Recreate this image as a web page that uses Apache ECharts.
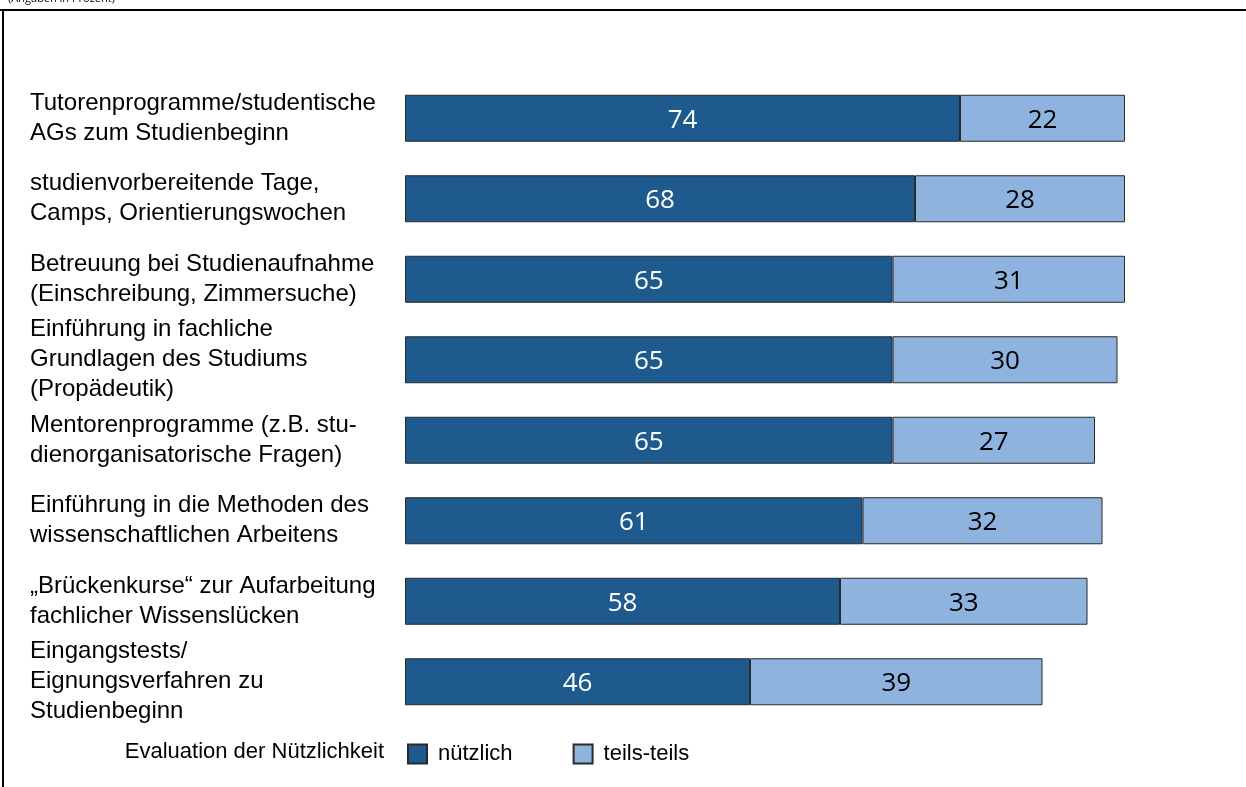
<!DOCTYPE html>
<html><head><meta charset="utf-8">
<script src="https://cdn.jsdelivr.net/npm/echarts@6/dist/echarts.min.js"></script>
<style>html,body{margin:0;padding:0;background:#fff}#c{width:1246px;height:787px}</style>
</head><body><div id="c"></div>
<script>
const categories = [
  "Tutorenprogramme/studentische\nAGs zum Studienbeginn",
  "studienvorbereitende Tage,\nCamps, Orientierungswochen",
  "Betreuung bei Studienaufnahme\n(Einschreibung, Zimmersuche)",
  "Einführung in fachliche\nGrundlagen des Studiums\n(Propädeutik)",
  "Mentorenprogramme (z.B. stu-\ndienorganisatorische Fragen)",
  "Einführung in die Methoden des\nwissenschaftlichen Arbeitens",
  "„Brückenkurse“ zur Aufarbeitung\nfachlicher Wissenslücken",
  "Eingangstests/\nEignungsverfahren zu\nStudienbeginn"
];
const nuetzlich = [74, 68, 65, 65, 65, 61, 58, 46];
const teilsTeils = [22, 28, 31, 30, 27, 32, 33, 39];
const seriesNames = ["nützlich", "teils-teils"];

const chart = echarts.init(document.getElementById('c'), null, {renderer: 'canvas'});
chart.setOption({
  animation: false,
  grid: {left: 405, top: 78, width: 750, height: 644},
  xAxis: {type: 'value', min: 0, max: 100, show: false},
  yAxis: {
    type: 'category', data: categories, inverse: true,
    axisLine: {show: false}, axisTick: {show: false},
    axisLabel: {
      align: 'left', margin: 375, fontFamily: 'Liberation Sans, Arial, sans-serif',
      fontSize: 24, lineHeight: 30, color: '#000'
    }
  },
  legend: {
    left: 402, top: 738, itemWidth: 19, itemHeight: 19, itemGap: 60,
    icon: 'rect',
    textStyle: {fontFamily: 'Liberation Sans Narrow, Arial Narrow, sans-serif', fontSize: 22, color: '#000', padding: [0, 0, 0, 6]},
    data: seriesNames
  },
  series: [
    {
      name: seriesNames[0], type: 'bar', stack: 's', data: nuetzlich, barWidth: 47,
      itemStyle: {color: '#1F5A8F', borderColor: '#2a2a2a', borderWidth: 1},
      label: {show: true, position: 'inside', color: '#fff', fontFamily: 'Open Sans, sans-serif', fontSize: 26, offset: [0, 2]}
    },
    {
      name: seriesNames[1], type: 'bar', stack: 's', data: teilsTeils, barWidth: 47,
      itemStyle: {color: '#8DB3DE', borderColor: '#2a2a2a', borderWidth: 1},
      label: {show: true, position: 'inside', color: '#000', fontFamily: 'Open Sans, sans-serif', fontSize: 26, offset: [0, 2]}
    }
  ],
  graphic: [
    {type: 'rect', shape: {x: 0, y: 9, width: 1246, height: 2}, style: {fill: '#000'}},
    {type: 'rect', shape: {x: 2, y: 9, width: 2, height: 778}, style: {fill: '#000'}},
    {type: 'text', left: 8, top: -7, style: {text: '(Angaben in Prozent)', fontFamily: 'Open Sans, sans-serif', fontSize: 11, fill: '#000'}},
    {type: 'text', x: 384, y: 752, style: {text: 'Evaluation der Nützlichkeit', align: 'right', verticalAlign: 'middle', fontFamily: 'Liberation Sans Narrow, Arial Narrow, sans-serif', fontSize: 22, fill: '#000'}}
  ]
});
</script></body></html>
